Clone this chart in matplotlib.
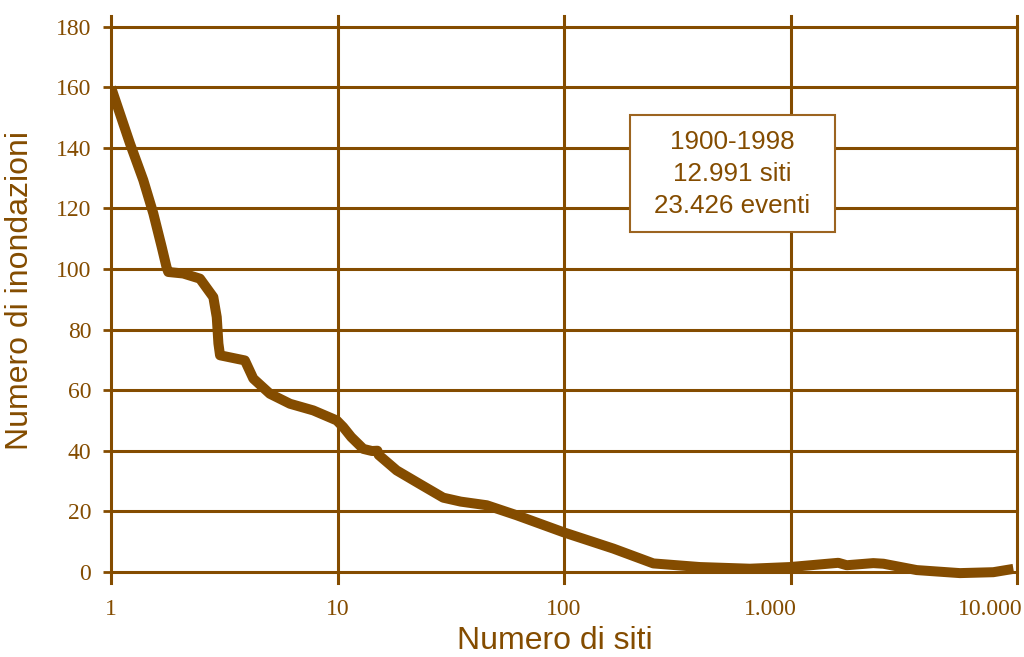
import matplotlib
matplotlib.use("Agg")
import matplotlib.pyplot as plt
from matplotlib.patches import Rectangle
from matplotlib.transforms import ScaledTranslation

BROWN = "#844c00"

# data
siti = [1.0, 1.213, 1.389, 1.538, 1.674, 1.76, 1.79, 2.085, 2.47, 2.83, 2.93, 2.98, 3.03,
        3.9, 4.25, 5.03, 6.17, 7.82, 9.92, 10.6, 11.5, 13.0, 14.2, 15.0, 15.2, 18.25,
        23.1, 29.3, 35.0, 45.6, 61.8, 99.3, 165, 248, 398, 662, 995, 1626, 1771,
        2321, 2570, 3606, 5598, 7858, 9640]
inondazioni = [160, 141.4, 129.3, 118.3, 107.3, 100.5, 99.0, 98.5, 96.8, 90.7, 84.1, 75.4, 71.5,
               69.8, 63.8, 58.8, 55.5, 53.3, 50.0, 47.8, 44.5, 40.6, 39.9, 40.0, 38.6, 33.5,
               29.0, 24.5, 23.2, 22.0, 18.7, 13.1, 7.7, 2.8, 1.6, 1.05, 1.6, 3.0, 2.2,
               2.9, 2.7, 0.6, -0.4, -0.1, 1.0]

xticks = [1, 10, 100, 1000, 10000]
xticklabels = ["1", "10", "100", "1.000", "10.000"]
yticks = [0, 20, 40, 60, 80, 100, 120, 140, 160, 180]
box_lines = ["1900-1998", "12.991 siti", "23.426 eventi"]

W, H = 1024, 657
fig = plt.figure(figsize=(W / 100, H / 100), dpi=100)
L, R, T, B = 111, 1017, 16, 582.5
ax = fig.add_axes([L / W, 1 - B / H, (R - L) / W, (B - T) / H])

ax.plot(siti, inondazioni, color=BROWN, lw=7.2, solid_joinstyle="round",
        solid_capstyle="butt", zorder=3)

ax.set_xscale("log")
ax.set_xlim(1, 10000)
ax.set_ylim(-3.5, 183.5)
ax.set_xticks(xticks)
ax.set_xticklabels(xticklabels)
ax.xaxis.set_minor_locator(matplotlib.ticker.NullLocator())
ax.set_yticks(yticks)

for s in ax.spines.values():
    s.set_visible(False)

ax.grid(True, color=BROWN, lw=2.2)
for gl in ax.get_xgridlines() + ax.get_ygridlines():
    gl.set_clip_on(False)

ax.tick_params(axis="y", direction="out", length=5.8, width=2, color=BROWN,
               labelcolor=BROWN, labelsize=17, pad=8.5)
ax.tick_params(axis="x", length=0, labelcolor=BROWN, labelsize=17, pad=12)
for lab in ax.get_xticklabels() + ax.get_yticklabels():
    lab.set_fontfamily("Liberation Serif")
xl = ax.get_xticklabels()
for lab in xl[3:]:
    lab.set_horizontalalignment("right")
    lab.set_transform(lab.get_transform() + ScaledTranslation(6 / 100, 0, fig.dpi_scale_trans))

ax.set_xlabel("Numero di siti", fontsize=23, color=BROWN, family="Liberation Sans")
ax.xaxis.label.set_va("baseline")
ax.xaxis.set_label_coords((555 - L) / (R - L), (B - 649) / (B - T))
ax.set_ylabel("Numero di inondazioni", fontsize=23, color=BROWN, family="Liberation Sans")
ax.yaxis.label.set_va("center")
ax.yaxis.set_label_coords((20 - L) / (R - L), (B - 290) / (B - T))

# annotation box
bx0, by0, bx1, by1 = 630, 115, 835, 232
fig.add_artist(Rectangle((bx0 / W, 1 - by1 / H), (bx1 - bx0) / W, (by1 - by0) / H,
                         transform=fig.transFigure, fc="white", ec="#9c6420", lw=1.5,
                         zorder=5))
fig.text((bx0 + bx1) / 2 / W, 1 - 174 / H, "\n".join(box_lines), ha="center", va="center",
         fontsize=18.7, color=BROWN, family="Liberation Sans", linespacing=1.4, zorder=6)

fig.savefig("out.png", dpi=100)
